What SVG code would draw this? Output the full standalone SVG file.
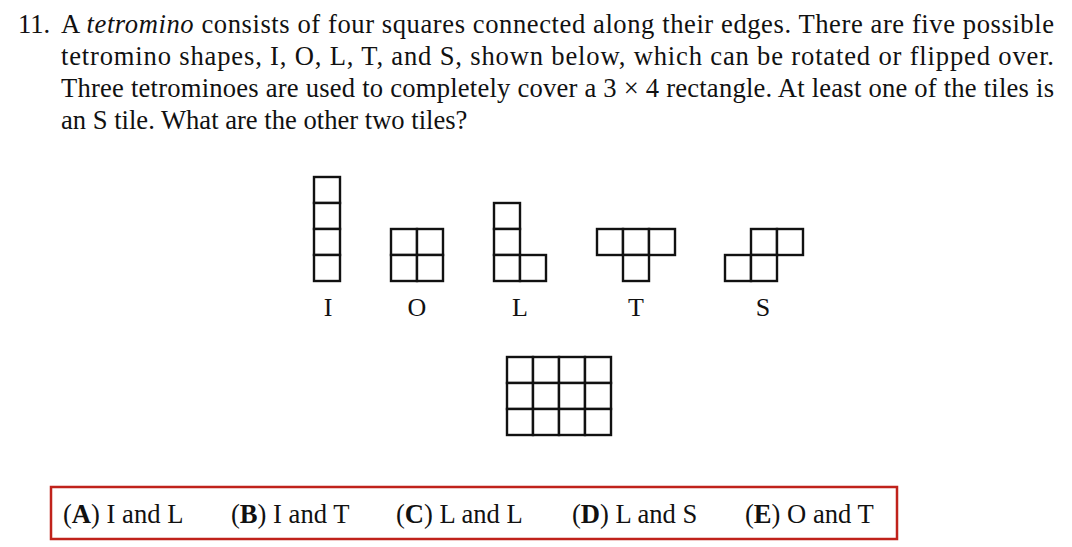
<svg xmlns="http://www.w3.org/2000/svg" width="1072" height="547" viewBox="0 0 1072 547">
<style>
text{font-family:"Liberation Serif","Times New Roman",serif;fill:#111;font-size:26.6px}
.cell{fill:#fff;stroke:#111;stroke-width:2.4}
.lbl{text-anchor:middle;font-size:26px}
.b{font-weight:bold}
</style>
<rect width="1072" height="547" fill="#fff"/>
<g id="question">
<text x="18" y="33">11.</text>
<text x="61" y="33" textLength="993" lengthAdjust="spacing">A <tspan font-style="italic">tetromino</tspan> consists of four squares connected along their edges. There are five possible</text>
<text x="61" y="65" textLength="993" lengthAdjust="spacing">tetromino shapes, I, O, L, T, and S, shown below, which can be rotated or flipped over.</text>
<text x="61" y="97" textLength="993" lengthAdjust="spacing">Three tetrominoes are used to completely cover a 3 × 4 rectangle. At least one of the tiles is</text>
<text x="61" y="129">an S tile. What are the other two tiles?</text>
</g>
<g id="tile-I">
<rect class="cell" x="314" y="177" width="26" height="26"/>
<rect class="cell" x="314" y="203" width="26" height="26"/>
<rect class="cell" x="314" y="229" width="26" height="26"/>
<rect class="cell" x="314" y="255" width="26" height="26"/>
<text class="lbl" x="328" y="316">I</text>
</g>
<g id="tile-O">
<rect class="cell" x="391" y="229" width="26" height="26"/>
<rect class="cell" x="417" y="229" width="26" height="26"/>
<rect class="cell" x="391" y="255" width="26" height="26"/>
<rect class="cell" x="417" y="255" width="26" height="26"/>
<text class="lbl" x="417" y="316">O</text>
</g>
<g id="tile-L">
<rect class="cell" x="494" y="203" width="26" height="26"/>
<rect class="cell" x="494" y="229" width="26" height="26"/>
<rect class="cell" x="494" y="255" width="26" height="26"/>
<rect class="cell" x="520" y="255" width="26" height="26"/>
<text class="lbl" x="520" y="316">L</text>
</g>
<g id="tile-T">
<rect class="cell" x="597" y="229" width="26" height="26"/>
<rect class="cell" x="623" y="229" width="26" height="26"/>
<rect class="cell" x="649" y="229" width="26" height="26"/>
<rect class="cell" x="623" y="255" width="26" height="26"/>
<text class="lbl" x="636" y="316">T</text>
</g>
<g id="tile-S">
<rect class="cell" x="751" y="229" width="26" height="26"/>
<rect class="cell" x="777" y="229" width="26" height="26"/>
<rect class="cell" x="725" y="255" width="26" height="26"/>
<rect class="cell" x="751" y="255" width="26" height="26"/>
<text class="lbl" x="763" y="316">S</text>
</g>
<g id="rectangle-3x4">
<rect class="cell" x="507" y="357" width="26" height="26"/>
<rect class="cell" x="533" y="357" width="26" height="26"/>
<rect class="cell" x="559" y="357" width="26" height="26"/>
<rect class="cell" x="585" y="357" width="26" height="26"/>
<rect class="cell" x="507" y="383" width="26" height="26"/>
<rect class="cell" x="533" y="383" width="26" height="26"/>
<rect class="cell" x="559" y="383" width="26" height="26"/>
<rect class="cell" x="585" y="383" width="26" height="26"/>
<rect class="cell" x="507" y="409" width="26" height="26"/>
<rect class="cell" x="533" y="409" width="26" height="26"/>
<rect class="cell" x="559" y="409" width="26" height="26"/>
<rect class="cell" x="585" y="409" width="26" height="26"/>
</g>
<g id="answers">
<rect x="51" y="487" width="846" height="52" fill="none" stroke="#c0221b" stroke-width="2.5"/>
<text x="63" y="523">(<tspan class="b">A</tspan>) I and L</text>
<text x="231" y="523">(<tspan class="b">B</tspan>) I and T</text>
<text x="396" y="523">(<tspan class="b">C</tspan>) L and L</text>
<text x="572" y="523">(<tspan class="b">D</tspan>) L and S</text>
<text x="745" y="523">(<tspan class="b">E</tspan>) O and T</text>
</g>
</svg>
